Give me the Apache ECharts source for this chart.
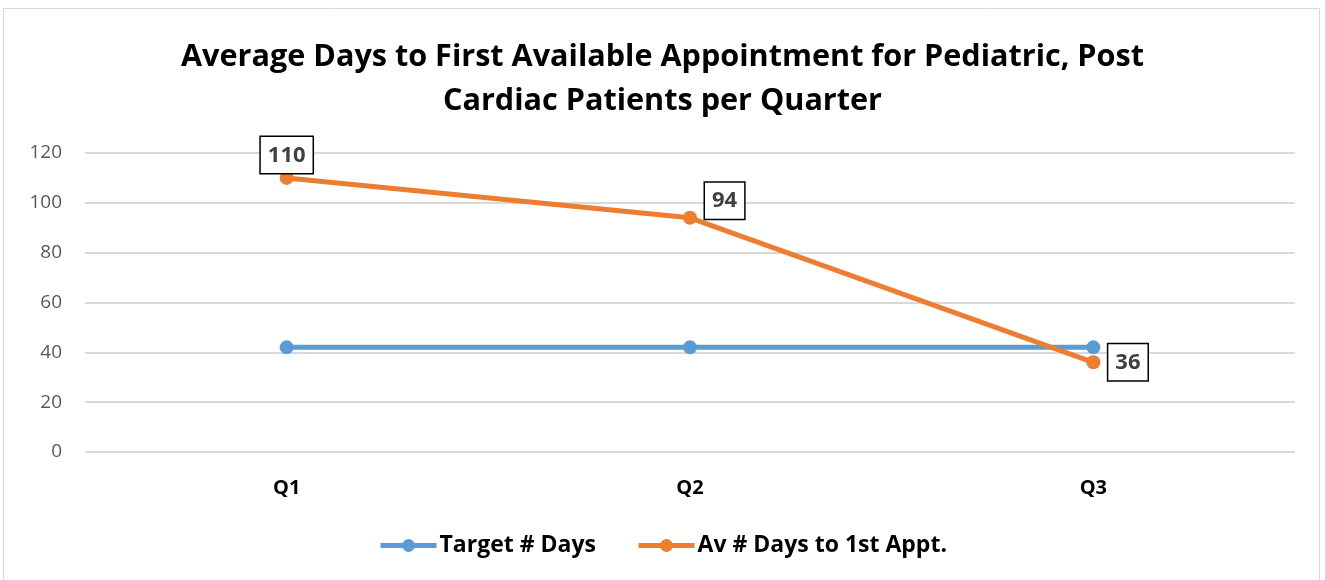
<!DOCTYPE html>
<html><head><meta charset="utf-8">
<script src="https://cdn.jsdelivr.net/npm/echarts@6/dist/echarts.min.js"></script>
<style>html,body{margin:0;padding:0;background:#fff}#c{width:1325px;height:580px}</style>
</head><body><div id="c"></div>
<script>
const categories = ['Q1', 'Q2', 'Q3'];
const targetDays = [42, 42, 42];
const avgDays = [110, 94, 36];
const yTicks = [0, 20, 40, 60, 80, 100, 120];
const seriesNames = ['Target # Days', 'Av # Days to 1st Appt.'];
const titleText = 'Average Days to First Available Appointment for Pediatric, Post\nCardiac Patients per Quarter';

const font = '"Open Sans", "Liberation Sans", sans-serif';
const chart = echarts.init(document.getElementById('c'), null, {renderer: 'canvas'});
const labelCfg = [
  {position: 'top', distance: 1, offset: [0, 3]},
  {position: 'right', distance: 8, offset: [0, -17]},
  {position: 'right', distance: 8}
];
chart.setOption({
  animation: false,
  backgroundColor: '#fff',
  graphic: [{type: 'rect', shape: {x: 3.5, y: 8.5, width: 1316, height: 580}, style: {fill: 'none', stroke: '#d9d9d9', lineWidth: 1}}],
  title: {text: titleText, left: 'center', top: 30, textStyle: {fontFamily: font, fontWeight: 'bold', fontSize: 30.6, color: '#000', lineHeight: 44}},
  legend: {bottom: 18, left: 'center', itemGap: 40, itemWidth: 56, itemHeight: 16,
    lineStyle: {width: 5},
    textStyle: {fontFamily: font, fontWeight: 'bold', fontSize: 23, color: '#000', padding: [0, 0, 0, -2]},
    data: seriesNames.map((n) => ({name: n}))},
  grid: {left: 85, right: 30, top: 153, bottom: 128, containLabel: false},
  xAxis: {type: 'category', data: categories, boundaryGap: true, axisLine: {show: false}, axisTick: {show: false},
    axisLabel: {fontFamily: font, fontWeight: 'bold', fontSize: 20, color: '#000', margin: 26}},
  yAxis: {type: 'value', min: yTicks[0], max: yTicks[yTicks.length - 1], interval: 20, axisLine: {show: false}, axisTick: {show: false},
    splitLine: {lineStyle: {color: '#d9d9d9', width: 2}},
    axisLabel: {fontFamily: font, fontSize: 19, color: '#595959', margin: 23}},
  series: [
    {name: seriesNames[0], type: 'line', data: targetDays, symbol: 'circle', symbolSize: 14,
      lineStyle: {width: 5, color: '#5b9bd5'}, itemStyle: {color: '#5b9bd5'}},
    {name: seriesNames[1], type: 'line', data: avgDays.map((v, i) => ({value: v, label: labelCfg[i]})), symbol: 'circle', symbolSize: 14,
      lineStyle: {width: 5, color: '#ed7d31'}, itemStyle: {color: '#ed7d31'},
      label: {show: true, fontFamily: font, fontWeight: 'bold', fontSize: 22, color: '#404040',
        borderColor: '#000', borderWidth: 1.5, backgroundColor: '#fff', padding: [8, 7, 6, 7]}}
  ]
});
</script></body></html>
